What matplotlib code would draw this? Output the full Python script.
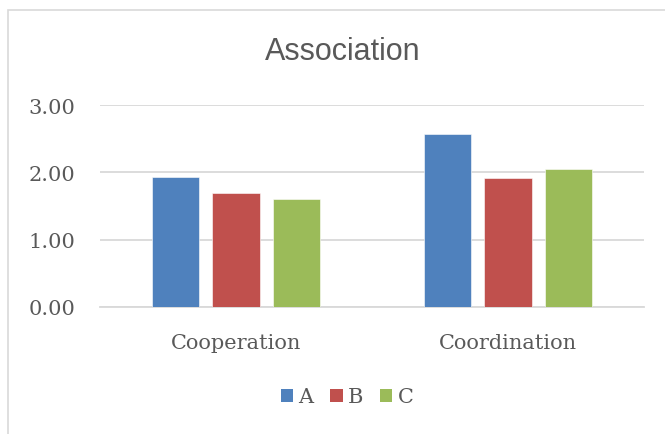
import matplotlib
matplotlib.use("Agg")
import matplotlib.pyplot as plt
from matplotlib.patches import Patch, Rectangle
import numpy as np

categories = ["Cooperation", "Coordination"]
series_names = ["A", "B", "C"]
values_A = [1.93, 2.57]
values_B = [1.69, 1.92]
values_C = [1.60, 2.05]
yticks = [0.0, 1.0, 2.0, 3.0]
ytick_labels = ["0.00", "1.00", "2.00", "3.00"]
title = "Association"

colors = ["#4f81bd", "#c0504d", "#9bbb59"]
text_color = "#595959"
grid_color = "#d9d9d9"

W, H = 665, 435
fig = plt.figure(figsize=(W / 100, H / 100), dpi=100)
fig.patch.set_facecolor("white")

# chart border
fig.patches.append(Rectangle((8 / W, -0.01), 1.0, 1 - 11 / H + 0.01, transform=fig.transFigure,
                             fill=False, edgecolor="#d9d9d9", linewidth=1.2))

ax = fig.add_axes([100 / W, (H - 308) / H, 544 / W, 202 / H])
x = np.arange(len(categories))
offset = 0.222
width = 0.174
for i, (vals, c, name) in enumerate(zip([values_A, values_B, values_C], colors, series_names)):
    ax.bar(x + (i - 1) * offset, vals, width=width, color=c, edgecolor="white",
           linewidth=0.4, zorder=3, label=name)

ax.set_xlim(-0.5, 1.5)
ax.set_ylim(0, 3)
ax.set_yticks(yticks)
ax.set_yticklabels(ytick_labels)
ax.set_xticks(x)
ax.set_xticklabels(categories)
ax.yaxis.grid(True, color=grid_color, linewidth=1.3, zorder=0)
for s in ["top", "right", "left"]:
    ax.spines[s].set_visible(False)
ax.spines["bottom"].set_color(grid_color)
ax.spines["bottom"].set_linewidth(1.3)
ax.tick_params(axis="both", length=0, colors=text_color, labelsize=15)
ax.tick_params(axis="y", pad=18)
ax.tick_params(axis="x", pad=19)
for lbl in ax.get_yticklabels() + ax.get_xticklabels():
    lbl.set_family("DejaVu Serif")
    lbl.set_color(text_color)
ax.set_facecolor("white")

fig.text(343 / W, 1 - 52 / H, title, ha="center", va="center", fontsize=22,
         color=text_color, family=["Liberation Sans", "DejaVu Sans"])

handles = [Patch(facecolor=c, edgecolor="none") for c in colors]
leg = fig.legend(handles, series_names, loc="center", bbox_to_anchor=(347 / W, 1 - 398 / H),
                 ncol=3, frameon=False, handlelength=0.6, handleheight=0.6,
                 handletextpad=0.25, columnspacing=0.8,
                 prop={"family": "DejaVu Serif", "size": 15})
for t in leg.get_texts():
    t.set_color(text_color)

fig.savefig("out.png", dpi=100)
